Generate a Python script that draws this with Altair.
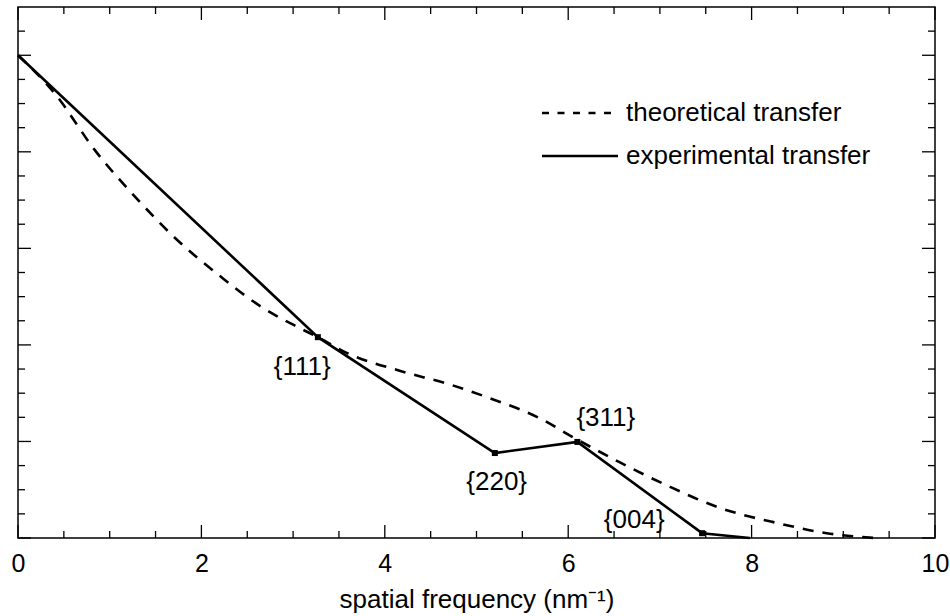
import altair as alt
import pandas as pd

# ---- data ----
theo_x = [0, 0.4, 0.84, 1.31, 1.71, 2.22, 2.66, 3.05, 3.27, 3.59, 4.17, 4.71,
          5.11, 5.69, 6.05, 6.56, 7.11, 7.66, 8.28, 8.82, 9.35]
theo_y = [1.0, 0.921, 0.803, 0.700, 0.622, 0.540, 0.478, 0.437, 0.416, 0.383,
          0.346, 0.318, 0.292, 0.248, 0.209, 0.157, 0.106, 0.062, 0.031, 0.010, 0.0]

exp_x = [0, 3.27, 5.20, 6.10, 7.46, 7.98]
exp_y = [1.0, 0.416, 0.176, 0.199, 0.010, 0.0]
exp_marked = [False, True, True, True, True, False]

label_text = ["{111}", "{220}", "{311}", "{004}"]
label_x = [3.10, 5.22, 6.41, 6.72]
label_y = [0.354, 0.116, 0.248, 0.037]

x_major = [0, 2, 4, 6, 8, 10]
x_minor = [0.5, 1, 1.5, 2.5, 3, 3.5, 4.5, 5, 5.5, 6.5, 7, 7.5, 8.5, 9, 9.5]
y_major = [0, 0.2, 0.4, 0.6, 0.8, 1.0]
y_minor = [0.05, 0.1, 0.15, 0.25, 0.3, 0.35, 0.45, 0.5, 0.55, 0.65, 0.7, 0.75,
           0.85, 0.9, 0.95, 1.05]

legend_names = ["theoretical transfer", "experimental transfer"]

W, H = 917, 531
FONT = "Liberation Sans"
FS = 26
MAJ, MIN = 13, 7
LW = 2.6

theo = pd.DataFrame({"x": theo_x, "y": theo_y})
exp = pd.DataFrame({"x": exp_x, "y": exp_y, "m": exp_marked})
labels = pd.DataFrame({"t": label_text, "x": label_x, "y": label_y})

xs = alt.Scale(domain=[0, 10], nice=False, zero=False)
ys = alt.Scale(domain=[0, 1.1], nice=False, zero=False)

X = alt.X("x:Q", scale=xs, axis=alt.Axis(
    values=x_major, format="d", ticks=False, domain=False, grid=False,
    labelFlush=False, labelFont=FONT, labelFontSize=25, labelColor="black",
    labelPadding=13,
    title="spatial frequency (nm⁻¹)", titleFont=FONT, titleFontSize=FS,
    titleFontWeight="normal", titleColor="black", titlePadding=10))
Y = alt.Y("y:Q", scale=ys, axis=None)

theo_line = alt.Chart(theo).mark_line(
    color="black", strokeWidth=LW, strokeDash=[11, 9], interpolate="monotone"
).encode(x=X, y=Y)

exp_line = alt.Chart(exp).mark_line(color="black", strokeWidth=LW).encode(
    x=alt.X("x:Q", scale=xs), y=alt.Y("y:Q", scale=ys))

markers = alt.Chart(exp).transform_filter("datum.m").mark_square(
    color="black", size=36, opacity=1).encode(
    x=alt.X("x:Q", scale=xs), y=alt.Y("y:Q", scale=ys))

lab = alt.Chart(labels).mark_text(
    font=FONT, fontSize=FS, color="black", align="center", baseline="middle"
).encode(x=alt.X("x:Q", scale=xs), y=alt.Y("y:Q", scale=ys), text="t:N")


def xticks(vals, length):
    d = pd.DataFrame({"x": vals})
    b = alt.Chart(d).mark_rule(color="black", strokeWidth=1.3).encode(
        x=alt.X("x:Q", scale=xs), y=alt.value(H), y2=alt.value(H - length))
    t = alt.Chart(d).mark_rule(color="black", strokeWidth=1.3).encode(
        x=alt.X("x:Q", scale=xs), y=alt.value(0), y2=alt.value(length))
    return [b, t]


def yticks(vals, length):
    d = pd.DataFrame({"y": vals})
    l = alt.Chart(d).mark_rule(color="black", strokeWidth=1.3).encode(
        y=alt.Y("y:Q", scale=ys), x=alt.value(0), x2=alt.value(length))
    r = alt.Chart(d).mark_rule(color="black", strokeWidth=1.3).encode(
        y=alt.Y("y:Q", scale=ys), x=alt.value(W), x2=alt.value(W - length))
    return [l, r]


tick_layers = (xticks(x_major, MAJ) + xticks(x_minor, MIN)
               + yticks(y_major, MAJ) + yticks(y_minor, MIN))

leg_df = pd.DataFrame({"name": legend_names})
leg_dash = alt.Chart(leg_df).transform_filter(
    "datum.name == 'theoretical transfer'").mark_rule(
    color="black", strokeWidth=LW, strokeDash=[7, 8.5]).encode(
    x=alt.value(524), x2=alt.value(600), y=alt.value(106))
leg_solid = alt.Chart(leg_df).transform_filter(
    "datum.name == 'experimental transfer'").mark_rule(
    color="black", strokeWidth=LW).encode(
    x=alt.value(524), x2=alt.value(600), y=alt.value(149))
leg_t1 = alt.Chart(leg_df).transform_filter(
    "datum.name == 'theoretical transfer'").mark_text(
    font=FONT, fontSize=FS, color="black", align="left", baseline="middle").encode(
    x=alt.value(608), y=alt.value(106), text="name:N")
leg_t2 = alt.Chart(leg_df).transform_filter(
    "datum.name == 'experimental transfer'").mark_text(
    font=FONT, fontSize=FS, color="black", align="left", baseline="middle").encode(
    x=alt.value(608), y=alt.value(149), text="name:N")

chart = alt.layer(
    theo_line, exp_line, markers, lab, *tick_layers,
    leg_dash, leg_solid, leg_t1, leg_t2
).properties(
    width=W, height=H,
    autosize=alt.AutoSizeParams(type="none"),
    padding={"left": 18, "top": 7, "right": 15, "bottom": 78},
    background="white",
).configure_view(stroke="black", strokeWidth=1.5)

chart.save("out.html", embed_options={"renderer": "svg", "actions": False})
